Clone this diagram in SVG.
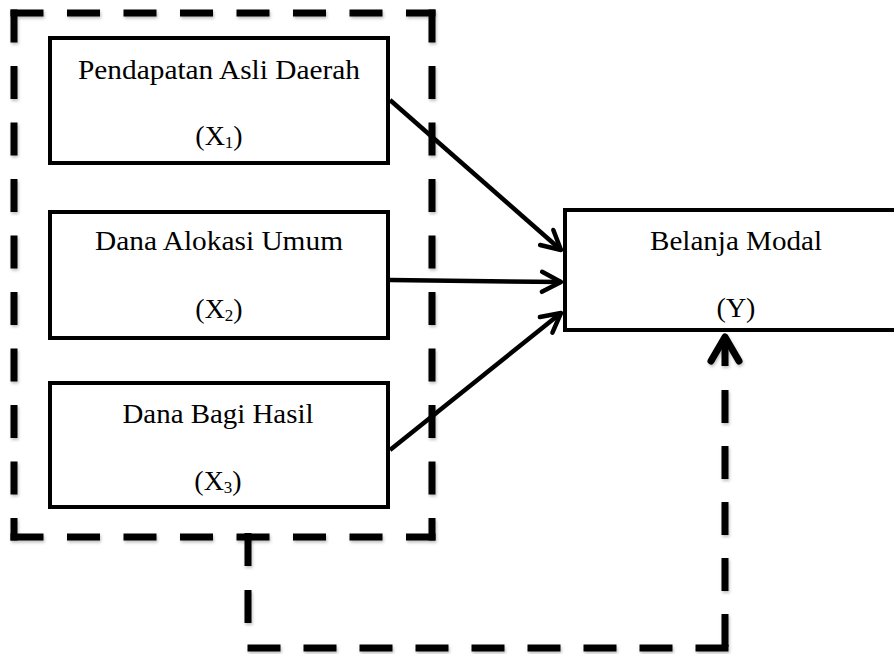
<svg xmlns="http://www.w3.org/2000/svg" width="894" height="654" viewBox="0 0 894 654">
<style>
.box{fill:#fff;stroke:#000;stroke-width:4}
.lbl{font-family:"Liberation Serif","Times New Roman",serif;font-size:28px;fill:#000;text-anchor:middle}
.sub{font-size:17px}
.arrow{stroke:#000;stroke-width:4.5;fill:none}
.dash{stroke:#000;stroke-width:7;fill:none;stroke-dasharray:33 23.5}
.head{stroke:#000;stroke-width:4.5;fill:none;stroke-linecap:round;stroke-linejoin:round}
</style>
<defs>
<filter id="sh" x="-10%" y="-10%" width="120%" height="120%">
<feDropShadow dx="1" dy="2" stdDeviation="1.5" flood-color="#000" flood-opacity="0.25"/>
</filter>
<marker id="ah" markerUnits="userSpaceOnUse" viewBox="-24 -14 28 28" markerWidth="28" markerHeight="28" refX="0" refY="0" orient="auto">
<path class="head" d="M -19 -10 L 0 0 L -19 10"/>
</marker>
</defs>
<rect width="894" height="654" fill="#fff"/>
<g id="group-box" filter="url(#sh)">
<line class="dash" x1="10.5" y1="13" x2="435.5" y2="13"/>
<line class="dash" x1="10.5" y1="537" x2="435.5" y2="537"/>
<line class="dash" x1="14" y1="9.5" x2="14" y2="540.5"/>
<line class="dash" x1="432" y1="9.5" x2="432" y2="540.5"/>
</g>
<g id="x1">
<rect class="box" x="50" y="38" width="338" height="125"/>
<text class="lbl" x="219" y="79" textLength="282" lengthAdjust="spacingAndGlyphs">Pendapatan Asli Daerah</text>
<text class="lbl" x="219" y="145">(X<tspan class="sub" dy="3">1</tspan><tspan dy="-3">)</tspan></text>
</g>
<g id="x2">
<rect class="box" x="50" y="212" width="338" height="126"/>
<text class="lbl" x="219" y="250" textLength="248" lengthAdjust="spacingAndGlyphs">Dana Alokasi Umum</text>
<text class="lbl" x="219" y="318">(X<tspan class="sub" dy="3">2</tspan><tspan dy="-3">)</tspan></text>
</g>
<g id="x3">
<rect class="box" x="50" y="383" width="338" height="124"/>
<text class="lbl" x="218" y="423" textLength="191" lengthAdjust="spacingAndGlyphs">Dana Bagi Hasil</text>
<text class="lbl" x="218" y="490">(X<tspan class="sub" dy="3">3</tspan><tspan dy="-3">)</tspan></text>
</g>
<g id="y">
<rect class="box" x="565" y="210" width="345" height="120"/>
<text class="lbl" x="736" y="250" textLength="172" lengthAdjust="spacingAndGlyphs">Belanja Modal</text>
<text class="lbl" x="736" y="317">(Y)</text>
</g>
<g id="connectors">
<line class="arrow" x1="390" y1="100" x2="561" y2="250" marker-end="url(#ah)"/>
<line class="arrow" x1="390" y1="280" x2="561" y2="282" marker-end="url(#ah)"/>
<line class="arrow" x1="390" y1="450" x2="561" y2="313" marker-end="url(#ah)"/>
<g filter="url(#sh)">
<line class="dash" x1="248" y1="533" x2="248" y2="626" style="stroke-dasharray:33 24"/>
<line class="dash" x1="728.5" y1="648" x2="244.5" y2="648" style="stroke-dasharray:33 23"/>
<line class="dash" x1="725" y1="390" x2="725" y2="651.5" style="stroke-dasharray:33 23"/>
<line x1="725" y1="337" x2="725" y2="366" stroke="#000" stroke-width="7"/>
<path d="M 711 361 L 725 337 L 739 361" fill="none" stroke="#000" stroke-width="7" stroke-linecap="round" stroke-linejoin="round"/>
</g>
</g>
</svg>
